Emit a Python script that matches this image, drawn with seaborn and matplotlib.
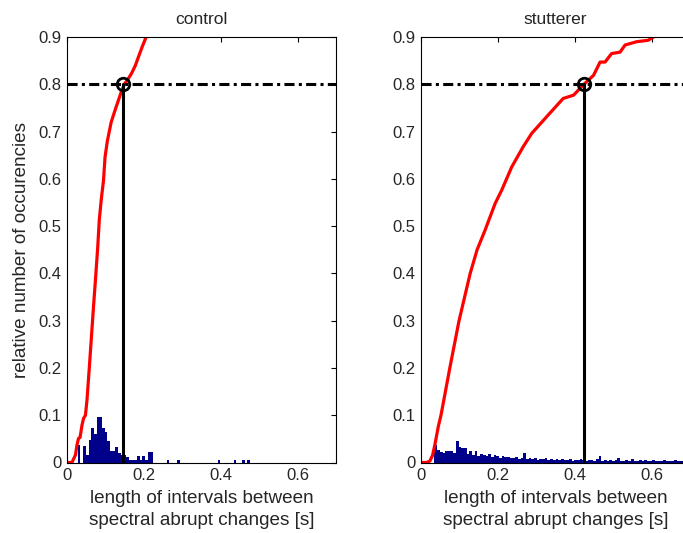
import numpy as np
import pandas as pd
import matplotlib
matplotlib.use("Agg")
import matplotlib.pyplot as plt
import seaborn as sns

# ---------------- data ----------------
bin_width = 0.007
n_bins = 100

# control histogram: bin index -> relative count
control_hist = {
    4: 0.037, 6: 0.034, 7: 0.015, 8: 0.048, 9: 0.073, 10: 0.060,
    11: 0.096, 12: 0.096, 13: 0.073, 14: 0.065, 15: 0.045, 16: 0.025,
    17: 0.025, 18: 0.032, 19: 0.021, 20: 0.016, 21: 0.016, 22: 0.011,
    23: 0.0056, 24: 0.0056, 25: 0.0056, 26: 0.0127, 27: 0.0056,
    28: 0.0127, 29: 0.0056, 30: 0.022, 31: 0.022, 37: 0.0056,
    41: 0.0056, 56: 0.0056, 62: 0.0056, 65: 0.0056, 67: 0.0056,
}

stutterer_hist = [
    0, 0, 0, 0, 0, 0.037, 0.027, 0.023, 0.020, 0.024,
    0.025, 0.025, 0.020, 0.045, 0.033, 0.030, 0.030, 0.019, 0.025, 0.016,
    0.025, 0.013, 0.019, 0.016, 0.013, 0.017, 0.012, 0.015, 0.013, 0.010,
    0.013, 0.011, 0.012, 0.009, 0.010, 0.012, 0.008, 0.010, 0.020, 0.007,
    0.009, 0.008, 0.010, 0.006, 0.008, 0.007, 0.009, 0.005, 0.008, 0.006,
    0.007, 0.005, 0.008, 0.006, 0.005, 0.007, 0.004, 0.006, 0.005, 0.007,
    0.005, 0.004, 0.006, 0.005, 0.004, 0.008, 0.013, 0.004, 0.005, 0.003,
    0.006, 0.004, 0.005, 0.010, 0.004, 0.003, 0.005, 0.004, 0.008, 0.003,
    0.004, 0.005, 0.003, 0.006, 0.004, 0.003, 0.005, 0.004, 0.003, 0.004,
    0.005, 0.003, 0.004, 0.003, 0.005, 0.003, 0.004, 0.003, 0.004, 0.003,
]

control_cdf_x = [0.0, 0.013, 0.022, 0.026, 0.030, 0.034, 0.039, 0.043, 0.048,
                 0.052, 0.058, 0.063, 0.069, 0.074, 0.080, 0.084, 0.089, 0.095,
                 0.099, 0.105, 0.115, 0.125, 0.140, 0.149, 0.158, 0.168, 0.178,
                 0.186, 0.196, 0.206, 0.215]
control_cdf_y = [0.0, 0.0, 0.016, 0.037, 0.051, 0.053, 0.079, 0.093, 0.100,
                 0.132, 0.200, 0.259, 0.330, 0.386, 0.456, 0.513, 0.555, 0.597,
                 0.646, 0.680, 0.720, 0.745, 0.781, 0.800, 0.810, 0.823, 0.840,
                 0.858, 0.880, 0.900, 0.915]

stutterer_cdf_x = [0.0, 0.015, 0.023, 0.030, 0.036, 0.045, 0.052, 0.075, 0.099,
                   0.128, 0.146, 0.167, 0.193, 0.210, 0.236, 0.266, 0.288, 0.331,
                   0.370, 0.397, 0.424, 0.449, 0.466, 0.479, 0.496, 0.518, 0.531,
                   0.561, 0.591, 0.605, 0.630]
stutterer_cdf_y = [0.0, 0.0, 0.003, 0.015, 0.037, 0.076, 0.100, 0.200, 0.300,
                   0.400, 0.450, 0.492, 0.548, 0.576, 0.625, 0.668, 0.696, 0.735,
                   0.770, 0.777, 0.800, 0.819, 0.847, 0.847, 0.865, 0.868, 0.883,
                   0.890, 0.893, 0.900, 0.910]

level = 0.8
control_q80 = 0.146
stutterer_q80 = 0.425

titles = ["control", "stutterer"]
xlabel = "length of intervals between\nspectral abrupt changes [s]"
ylabel = "relative number of occurencies"
xticks = [0, 0.2, 0.4, 0.6]
xtick_labels = ["0", "0.2", "0.4", "0.6"]
yticks = [0, 0.1, 0.2, 0.3, 0.4, 0.5, 0.6, 0.7, 0.8, 0.9]
ytick_labels = ["0", "0.1", "0.2", "0.3", "0.4", "0.5", "0.6", "0.7", "0.8", "0.9"]

# ---------------- style ----------------
sns.set_style("white")
plt.rcParams["font.family"] = ["Liberation Sans", "DejaVu Sans"]
plt.rcParams["font.size"] = 12

centers = (np.arange(n_bins) + 0.5) * bin_width

ctrl_heights = np.zeros(n_bins)
for k, v in control_hist.items():
    ctrl_heights[k] = v
stut_heights = np.array(stutterer_hist)

navy = "#00008B"

fig = plt.figure(figsize=(6.83, 5.33), dpi=100)
ax1 = fig.add_axes([67 / 683, 70.5 / 533, 269 / 683, 425.5 / 533])
ax2 = fig.add_axes([421 / 683, 70.5 / 533, 269 / 683, 425.5 / 533])

panels = [
    (ax1, ctrl_heights, control_cdf_x, control_cdf_y, control_q80, titles[0]),
    (ax2, stut_heights, stutterer_cdf_x, stutterer_cdf_y, stutterer_q80, titles[1]),
]

for ax, heights, cx, cy, q, title in panels:
    df = pd.DataFrame({"x": centers, "w": heights})
    sns.histplot(data=df, x="x", weights="w", binwidth=bin_width,
                 binrange=(0, n_bins * bin_width), stat="count",
                 color=navy, edgecolor=navy, linewidth=0, alpha=1.0, ax=ax)
    sns.lineplot(x=cx, y=cy, color="red", linewidth=2.3, ax=ax,
                 estimator=None, sort=False)
    ax.axhline(level, color="black", linewidth=2.2,
               linestyle=(0, (3.3, 1.4, 1.0, 1.4)), zorder=4)
    ax.plot([q, q], [0, level], color="black", linewidth=2.2, zorder=5)
    ax.plot([q], [level], marker="o", markersize=9, markerfacecolor="none",
            markeredgecolor="black", markeredgewidth=2.0, zorder=6)

    ax.set_xlim(0, 0.7)
    ax.set_ylim(0, 0.9)
    ax.set_xticks(xticks)
    ax.set_xticklabels(xtick_labels)
    ax.set_yticks(yticks)
    ax.set_yticklabels(ytick_labels)
    ax.tick_params(direction="in", length=3.5, width=0.8, top=True, right=True,
                   labelsize=12, pad=4, color="black")
    for s in ax.spines.values():
        s.set_visible(True)
        s.set_color("black")
        s.set_linewidth(0.8)
    ax.set_title(title, fontsize=12.5, pad=9)
    ax.set_xlabel(xlabel, fontsize=13.6, labelpad=5, linespacing=1.35)
    ax.set_ylabel("")

ax1.set_ylabel(ylabel, fontsize=13.6, labelpad=6)

fig.savefig("out.png", dpi=100)
